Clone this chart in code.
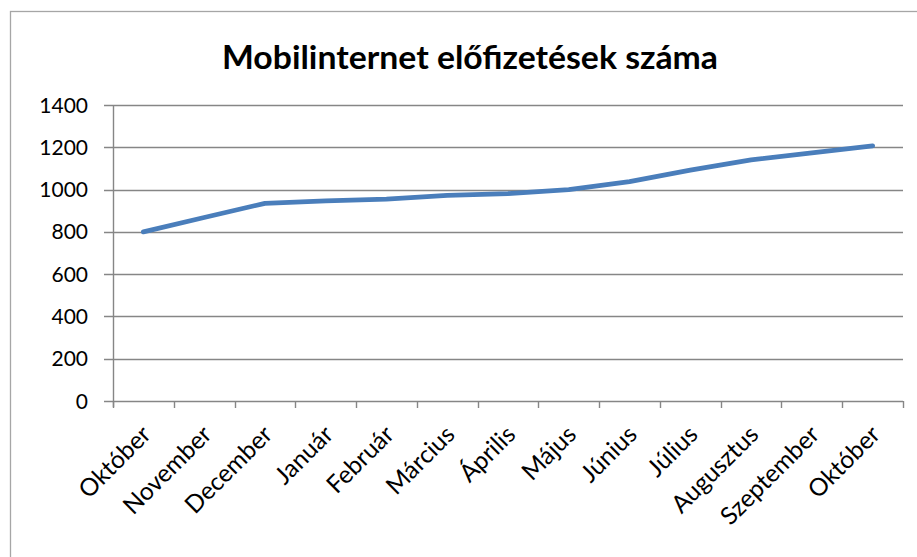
<!DOCTYPE html>
<html>
<head>
<meta charset="utf-8">
<script src="https://cdn.jsdelivr.net/npm/d3@7"></script>
<style>
  body { margin: 0; background: #fff; }
  svg { display: block; }
</style>
</head>
<body>
<div id="chart"></div>
<script>
const chartWidth = 917;
const chartHeight = 557;
const chartMargin = { top: 105, right: 14, bottom: 156, left: 113 };

const chartTitle = "Mobilinternet előfizetések száma";
const months = [
  "Október", "November", "December", "Január", "Február", "Március",
  "Április", "Május", "Június", "Július", "Augusztus", "Szeptember", "Október",
];
const subscribers = [800, 868, 935, 947, 955, 973, 981, 1000, 1038, 1092, 1140, 1174, 1207];
const yTicks = [0, 200, 400, 600, 800, 1000, 1200, 1400];

const svg = d3
  .select("#chart")
  .append("svg")
  .attr("width", chartWidth)
  .attr("height", chartHeight);

// outer chart frame (runs off the right and bottom edges)
svg
  .append("rect")
  .attr("x", 10.5)
  .attr("y", 11.5)
  .attr("width", 940)
  .attr("height", 560)
  .attr("fill", "#fff")
  .attr("stroke", "#a6a6a6")
  .attr("stroke-width", 1.3);

const x = d3
  .scaleBand()
  .domain(d3.range(months.length))
  .range([chartMargin.left, chartWidth - chartMargin.right]);

const y = d3
  .scaleLinear()
  .domain([0, 1400])
  .range([chartHeight - chartMargin.bottom, chartMargin.top]);

svg
  .append("text")
  .attr("x", 470)
  .attr("y", 69)
  .attr("text-anchor", "middle")
  .attr("font-family", "Lato, 'Open Sans', sans-serif")
  .attr("font-weight", 700)
  .attr("font-size", 33)
  .attr("textLength", 496)
  .attr("lengthAdjust", "spacingAndGlyphs")
  .text(chartTitle);

// horizontal gridlines
svg
  .append("g")
  .selectAll("line")
  .data(yTicks)
  .join("line")
  .attr("x1", chartMargin.left - 9)
  .attr("x2", chartWidth - chartMargin.right)
  .attr("y1", (d) => Math.round(y(d)) + 0.5)
  .attr("y2", (d) => Math.round(y(d)) + 0.5)
  .attr("stroke", "#868686")
  .attr("stroke-width", 1.4);

// y axis line
svg
  .append("line")
  .attr("x1", chartMargin.left + 0.5)
  .attr("x2", chartMargin.left + 0.5)
  .attr("y1", y(1400))
  .attr("y2", y(0) + 6)
  .attr("stroke", "#868686")
  .attr("stroke-width", 1.4);

// y tick labels
svg
  .append("g")
  .selectAll("text")
  .data(yTicks)
  .join("text")
  .attr("x", 88)
  .attr("y", (d) => y(d))
  .attr("dy", "0.36em")
  .attr("text-anchor", "end")
  .attr("font-family", "Lato, 'Open Sans', sans-serif")
  .attr("font-size", 21)
  .attr("fill", "#000")
  .text((d) => d);

// x category ticks
const boundaries = d3.range(months.length + 1).map((i) =>
  i < months.length ? x(i) : x(months.length - 1) + x.bandwidth(),
);
svg
  .append("g")
  .selectAll("line")
  .data(boundaries)
  .join("line")
  .attr("x1", (d) => Math.round(d) + 0.5)
  .attr("x2", (d) => Math.round(d) + 0.5)
  .attr("y1", y(0))
  .attr("y2", y(0) + 7)
  .attr("stroke", "#868686")
  .attr("stroke-width", 1.4);

// x labels, rotated
svg
  .append("g")
  .selectAll("text")
  .data(months)
  .join("text")
  .attr("text-anchor", "end")
  .attr(
    "transform",
    (d, i) => `translate(${x(i) + x.bandwidth() / 2 + 9}, ${y(0) + 35}) rotate(-45)`,
  )
  .attr("font-family", "Lato, 'Open Sans', sans-serif")
  .attr("font-size", 24.5)
  .attr("fill", "#000")
  .text((d) => d);

const line = d3
  .line()
  .x((d, i) => x(i) + x.bandwidth() / 2)
  .y((d) => y(d));

svg
  .append("path")
  .datum(subscribers)
  .attr("d", line)
  .attr("fill", "none")
  .attr("stroke", "#4a7ebb")
  .attr("stroke-width", 4.8)
  .attr("stroke-linecap", "round")
  .attr("stroke-linejoin", "round");
</script>
</body>
</html>
